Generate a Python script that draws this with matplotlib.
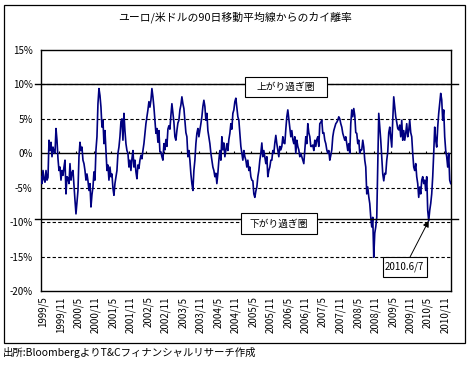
import matplotlib
matplotlib.use("Agg")
import matplotlib.pyplot as plt
from matplotlib.patches import Rectangle
from matplotlib.transforms import ScaledTranslation, blended_transform_factory
import numpy as np
import pandas as pd

plt.rcParams['font.family'] = ['Noto Sans CJK JP', 'DejaVu Sans']

TITLE = "ユーロ/米ドルの90日移動平均線からのカイ離率"
SOURCE = "出所:BloombergよりT&Cフィナンシャルリサーチ作成"

# series runs evenly from START to END
START = "1999-05-01"
END = "2011-01-15"

# deviation from the 90-day moving average (%)
deviation = [
    # 1999/5 - 2000/12
    -3.4, -4.4, -2.5, -3.8, -4.2, -2.5, -3.9, -3.5, 1.9, 0.4,
    1.6, -0.5, 0.9, 0.2, 0.0, 3.6, 1.9, -0.8, -2.5, -2.0,
    -3.9, -2.5, -3.2, -2.0, -1.0, -5.9, -3.4, -3.6, -4.4, -1.5,
    -3.9, -2.8, -2.5, -4.7, -6.8, -8.8, -7.0, -5.4, -0.5, 1.6,
    0.4, 0.9, -1.0, -1.5, -2.5, -3.9, -3.0, -4.0, -5.4, -4.4,
    -7.8, -6.0, -4.9, -2.7, -3.9, 0.5, 2.4, 7.2, 9.4, 8.4,
    # 2001 - 2002
    6.7, 3.8, 4.8, 1.4, 3.3, 0.4, -2.5, -1.7, -3.9, -2.0,
    -3.4, -3.0, -5.1, -6.1, -4.4, -3.4, -2.5, 0.0, 0.9, 2.4,
    4.6, 5.0, 1.9, 5.8, 3.3, 1.4, 0.4, 0.0, -2.0, -1.0,
    -2.5, -0.8, 0.4, -2.0, -1.0, -2.7, -3.7, -1.7, -2.2, -1.0,
    -0.3, -0.8, 0.4, 1.4, 2.9, 4.3, 5.3, 6.3, 7.5, 6.7,
    7.7, 9.4, 8.2, 6.7, 4.8, 2.9, 3.6, 1.6, 3.3, 0.2,
    # 2002 - 2004
    0.2, -0.5, -1.0, 1.4, 0.5, 2.0, 1.0, 3.5, 4.0, 3.5,
    5.5, 7.2, 5.8, 4.5, 2.4, 1.9, 3.3, 4.4, 4.8, 6.3,
    7.0, 8.2, 7.2, 6.5, 4.8, 3.0, 2.4, -0.5, 0.4, -1.0,
    -3.0, -4.4, -5.4, -2.5, -1.0, 1.4, 2.9, 3.6, 2.4, 3.3,
    4.3, 5.3, 6.8, 7.7, 6.8, 4.8, 5.8, 3.3, 2.4, 1.4,
    0.0, -1.0, -2.0, -2.5, -3.4, -2.9, -4.4, -2.9, -1.0, 0.4,
    # 2004 - 2006
    -1.0, 2.4, 0.5, 1.5, -0.5, 0.5, 1.4, 0.4, 2.0, 2.9,
    4.3, 3.5, 5.8, 6.3, 7.5, 8.0, 6.7, 5.3, 4.8, 2.9,
    1.0, 0.0, -1.0, 0.4, -0.5, -1.0, -2.0, -1.0, -2.5, -2.0,
    -3.4, -3.9, -4.0, -5.9, -6.4, -5.5, -4.9, -3.4, -2.5, -1.0,
    0.0, 1.5, -0.5, 0.4, -0.5, -1.5, -0.5, -3.4, -2.5, -2.0,
    -1.0, -1.0, 0.4, 0.0, 1.5, 2.6, 1.4, 0.5, -0.5, 1.0,
    # 2006 - 2007
    0.5, 1.0, 2.4, 1.5, 1.4, 3.5, 5.3, 6.3, 5.0, 3.8,
    2.4, 3.3, 2.0, 1.4, 2.4, 0.0, 1.9, 1.0, 0.5, -0.5,
    0.0, -0.5, -1.0, -1.5, 0.4, 2.4, 1.4, 4.3, 3.0, 2.4,
    1.0, 1.0, 1.2, 0.4, 1.9, 1.0, 2.0, 2.4, 1.0, 4.3,
    4.5, 4.8, 2.9, 3.0, 1.9, 1.4, 0.5, 0.0, 0.4, -1.0,
    -0.3, 0.5, 2.4, 3.3, 3.8, 4.3, 4.5, 4.8, 5.3, 5.0,
    # 2007 - 2009
    4.3, 3.8, 2.9, 2.4, 1.9, 2.4, 1.4, 0.4, 1.4, 0.0,
    4.3, 6.3, 5.3, 6.5, 5.5, 3.0, 2.9, 1.4, 1.9, 0.0,
    0.5, 0.5, 1.9, 0.9, -1.0, -2.0, -5.9, -4.9, -6.3, -7.3,
    -9.3, -10.7, -9.3, -15.1, -11.6, -10.7, -9.3, -2.0, 5.8, 3.8,
    1.9, -0.5, -3.0, -4.0, -2.9, -3.0, -1.0, 0.2, 3.0, 3.8,
    2.4, 0.9, 4.8, 8.2, 6.8, 5.3, 4.5, 3.6, 3.4, 4.1,
    # 2009 - 2011/1
    2.4, 4.8, 1.9, 3.3, 1.9, 2.9, 4.3, 2.4, 3.3, 4.8,
    3.0, 2.4, 0.0, -2.0, -2.5, -1.5, -3.4, -4.4, -6.4, -4.9,
    -5.9, -3.9, -3.4, -4.4, -3.9, -5.4, -3.4, -8.3, -9.8, -8.3,
    -7.3, -5.9, -3.4, 0.0, 3.8, 1.9, 0.9, 3.8, 5.8, 7.3,
    8.7, 7.8, 4.8, 6.3, 2.4, 0.4, -0.5, -2.0, 0.0, -3.9,
    -4.4,
]

tick_labels = [
    "1999/5", "1999/11", "2000/5", "2000/11", "2001/5", "2001/11",
    "2002/5", "2002/11", "2003/5", "2003/11", "2004/5", "2004/11",
    "2005/5", "2005/11", "2006/5", "2006/11", "2007/5", "2007/11",
    "2008/5", "2008/11", "2009/5", "2009/11", "2010/5", "2010/11",
]
y_ticks = [15, 10, 5, 0, -5, -10, -15, -20]
y_labels = ["15%", "10%", "5%", "0%", "-5%", "-10%", "-15%", "-20%"]
grid_levels = [10, 5, -5, -10, -15]

upper_zone = 10.0    # 上がり過ぎ圏
lower_zone = -9.6    # 下がり過ぎ圏
upper_text = "上がり過ぎ圏"
lower_text = "下がり過ぎ圏"
low_text = "2010.6/7"

dates = pd.date_range(START, END, periods=len(deviation))
tick_dates = [pd.Timestamp(int(y), int(m), 1)
              for y, m in (s.split("/") for s in tick_labels)]

fig = plt.figure(figsize=(4.7, 3.65), dpi=100)
ax = fig.add_axes([41 / 470, 74 / 365, 409.7 / 470, 241 / 365])

# outer chart frame
fig.add_artist(Rectangle((4 / 470, 22 / 365), 461 / 470, 338 / 365,
                         transform=fig.transFigure, fill=False,
                         ec="black", lw=0.9))

for lv in grid_levels:
    ax.axhline(lv, color="black", lw=0.8, ls=(0, (3, 2)), zorder=1)
ax.axhline(0, color="black", lw=1.0, zorder=1)
ax.vlines(tick_dates, 0, 0.35, color="black", lw=0.8, zorder=1)

ax.plot(dates, deviation, color="#000080", lw=1.2, zorder=3)

# zone lines stick out a little on both sides of the plot area
blend = blended_transform_factory(ax.transAxes, ax.transData)
for lv in (upper_zone, lower_zone):
    ax.plot([-0.015, 1.017], [lv, lv], transform=blend, clip_on=False,
            color="black", lw=1.0, zorder=4)


def label_box(x0, x1, y0, y1, text):
    ax.add_patch(Rectangle((x0, y0), x1 - x0, y1 - y0, transform=ax.transAxes,
                           fc="white", ec="black", lw=0.8, zorder=5,
                           clip_on=False))
    ax.text((x0 + x1) / 2, (y0 + y1) / 2, text, transform=ax.transAxes,
            ha="center", va="center", fontsize=7, zorder=6)


label_box(0.498, 0.698, 0.805, 0.888, upper_text)
label_box(0.488, 0.674, 0.2365, 0.324, lower_text)
label_box(0.834, 0.941, 0.059, 0.142, low_text)

# arrow to the 2010 low
dev = np.array(deviation)
mask = dates >= pd.Timestamp("2010-01-01")
i_low = np.where(mask)[0][np.argmin(dev[mask])]
ax.annotate("", xy=(dates[i_low], dev[i_low]), xytext=(0.901, 0.142),
            textcoords="axes fraction",
            arrowprops=dict(arrowstyle="-|>", color="black", lw=0.7,
                            mutation_scale=9, shrinkA=0, shrinkB=0),
            zorder=6)

ax.set_xlim(pd.Timestamp(START), pd.Timestamp(END))
ax.set_ylim(-20, 15)
ax.set_yticks(y_ticks)
ax.set_yticklabels(y_labels, fontsize=7)
ax.set_xticks(tick_dates)
ax.set_xticklabels(tick_labels, rotation=90, fontsize=7)
ax.tick_params(axis="y", length=0, pad=6)
ax.tick_params(axis="x", length=0, pad=4)
shift = ScaledTranslation(2 / 100, 0, fig.dpi_scale_trans)
for lab in ax.get_xticklabels():
    lab.set_transform(lab.get_transform() + shift)

for sp in ax.spines.values():
    sp.set_linewidth(1.0)
    sp.set_color("black")

fig.text(235 / 470, 1 - 17 / 365, TITLE, ha="center", va="center", fontsize=7.8)
fig.text(3 / 470, 1 - 353 / 365, SOURCE, ha="left", va="center", fontsize=7.5)

fig.savefig("out.png", dpi=100)
